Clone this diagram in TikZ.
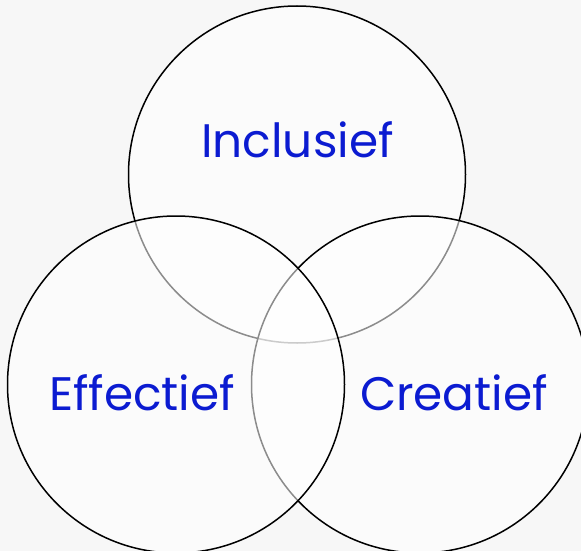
\documentclass[tikz,border=0pt]{standalone}
\usepackage{fontspec}
\setmainfont{Poppins}
\usepackage{tikz}
\definecolor{bgcol}{HTML}{F7F7F7}
\definecolor{wordblue}{HTML}{0B1BD1}

\begin{document}
\begin{tikzpicture}[x=1pt, y=-1pt,
    ring/.style={draw=black, line width=1.5pt, fill=white, fill opacity=0.55, draw opacity=1},
    word/.style={text=wordblue, anchor=base, font=\fontsize{47}{57}\selectfont}]
    % Fond
    \fill[bgcol] (0,0) rectangle (581,551);
    \useasboundingbox (0,0) rectangle (581,551);
    \clip (0,0) rectangle (581,551);

    % Cercles (haut, droite, gauche)
    \draw[ring] (297,174.5) circle (168.5pt);
    \draw[ring] (420,384.5) circle (168.5pt);
    \draw[ring] (176,384.5) circle (168.5pt);

    % Textes
    \node[word] (inclusief) at (297.5,157) {Inclusief};
    \node[word] (effectief) at (142,410.7) {Effectief};
    \node[word] (creatief) at (454,410.7) {Creatief};
\end{tikzpicture}
\end{document}
